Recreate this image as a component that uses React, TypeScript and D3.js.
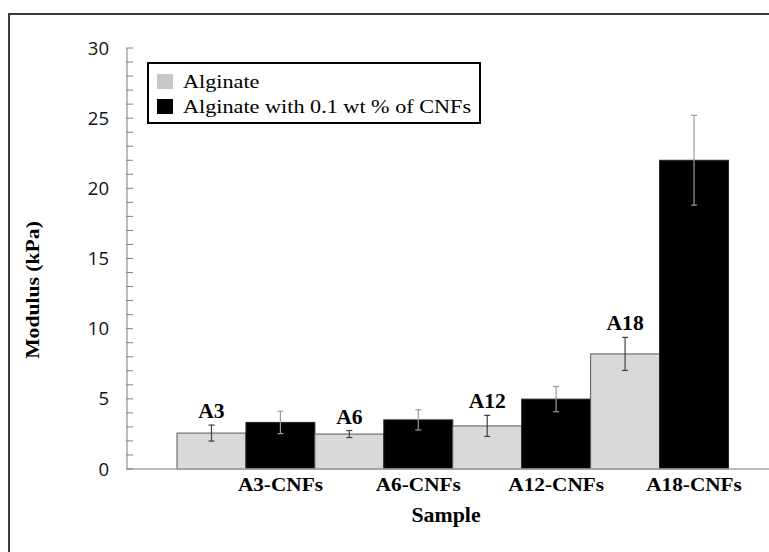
import React from 'react';
import * as d3 from 'd3';

// sample order along the axis: plain alginate then the CNF variant
const groups = ['A3', 'A6', 'A12', 'A18'];
const samples = ['A3', 'A3-CNFs', 'A6', 'A6-CNFs', 'A12', 'A12-CNFs', 'A18', 'A18-CNFs'];
const alginate = [2.56, 2.49, 3.07, 8.2];
const alginateErr = [0.57, 0.25, 0.75, 1.18];
const withCnf = [3.32, 3.5, 4.98, 22.0];
const withCnfErr = [0.8, 0.72, 0.9, 3.2];
const yTicks = [0, 5, 10, 15, 20, 25, 30];
const legendLabels = ['Alginate', 'Alginate with 0.1 wt % of CNFs'];

const W = 769;
const H = 552;
const serif = '"Liberation Serif", "Times New Roman", serif';
const sans = '"Open Sans", "Noto Sans", sans-serif';

const LIGHT = '#d9d9d9';

function Stretch({ x, y, sx = 1, anchor = 'middle', rotate = 0, size, weight = 'normal', family = serif, fill = '#000', children }) {
  return (
    <text
      transform={`translate(${x},${y}) rotate(${rotate}) scale(${sx},1)`}
      textAnchor={anchor}
      fontFamily={family}
      fontSize={size}
      fontWeight={weight}
      fill={fill}
    >
      {children}
    </text>
  );
}

export default function App() {
  const plotLeft = 127;
  const y = d3.scaleLinear().domain([0, 30]).range([469, 48]);
  const x = d3.scaleBand().domain(samples).range([177, 728.5]).padding(0);
  const bw = x.bandwidth();

  const bars = groups.flatMap((g, i) => [
    { key: samples[i * 2], v: alginate[i], e: alginateErr[i], fill: LIGHT, stroke: '#595959', err: '#404040', group: g },
    { key: samples[i * 2 + 1], v: withCnf[i], e: withCnfErr[i], fill: '#000', stroke: '#262626', err: '#9a9a9a', group: null }
  ]);

  const minor = d3.range(0, 31, 1);

  return (
    <svg width={W} height={H} style={{ position: 'absolute', left: 0, top: 0, background: '#fff' }}>
      {/* outer frame, runs off the right and bottom */}
      <rect x={9} y={14} width={W} height={H} fill="#fff" stroke="#3a3a3a" strokeWidth={2} />

      {/* bars */}
      {bars.map(b => (
        <rect
          key={b.key}
          x={x(b.key)}
          y={y(b.v)}
          width={bw}
          height={y(0) - y(b.v)}
          fill={b.fill}
          stroke={b.stroke}
          strokeWidth={1}
        />
      ))}

      {/* error bars */}
      {bars.map(b => {
        const cx = x(b.key) + bw / 2;
        return (
          <g key={'e' + b.key} stroke={b.err} strokeWidth={1.2}>
            <line x1={cx} x2={cx} y1={y(b.v + b.e)} y2={y(b.v - b.e)} />
            <line x1={cx - 3} x2={cx + 3} y1={y(b.v + b.e)} y2={y(b.v + b.e)} />
            <line x1={cx - 3} x2={cx + 3} y1={y(b.v - b.e)} y2={y(b.v - b.e)} />
          </g>
        );
      })}

      {/* labels above the alginate bars */}
      {bars.filter(b => b.group).map(b => (
        <Stretch key={'l' + b.key} x={x(b.key) + bw / 2} y={y(b.v + b.e) - 7} sx={1.08} size={20} weight="bold">
          {b.group}
        </Stretch>
      ))}

      {/* x axis */}
      <line x1={plotLeft} x2={W} y1={y(0)} y2={y(0)} stroke="#a6a6a6" strokeWidth={1.5} />
      {samples.filter((s, i) => i % 2 === 1).map(s => (
        <Stretch key={'x' + s} x={x(s) + bw / 2} y={491} sx={1.12} size={19} weight="bold">
          {s}
        </Stretch>
      ))}
      <Stretch x={446} y={522} sx={1.04} size={21} weight="bold">Sample</Stretch>

      {/* y axis */}
      <line x1={plotLeft} x2={plotLeft} y1={y(30)} y2={y(0)} stroke="#808080" strokeWidth={1} />
      {minor.map(t => (
        <line key={'m' + t} x1={plotLeft - 1} x2={plotLeft + 6} y1={y(t)} y2={y(t)} stroke="#808080" strokeWidth={1} />
      ))}
      {yTicks.map(t => (
        <text key={'y' + t} x={109} y={y(t)} dy="0.36em" textAnchor="end" fontFamily={sans} fontSize={18.5} fill="#111">
          {t}
        </text>
      ))}
      <Stretch x={39} y={290} rotate={-90} sx={1.14} size={19} weight="bold">Modulus (kPa)</Stretch>

      {/* legend */}
      <rect x={148} y={63} width={332} height={60} fill="#fff" stroke="#000" strokeWidth={2} />
      {legendLabels.map((l, i) => (
        <g key={l}>
          <rect x={157} y={74 + i * 25} width={16} height={15} fill={i === 0 ? '#c8c8c8' : '#000'} />
          <Stretch x={183} y={88 + i * 25} anchor="start" sx={1.17} size={19}>{l}</Stretch>
        </g>
      ))}
    </svg>
  );
}
